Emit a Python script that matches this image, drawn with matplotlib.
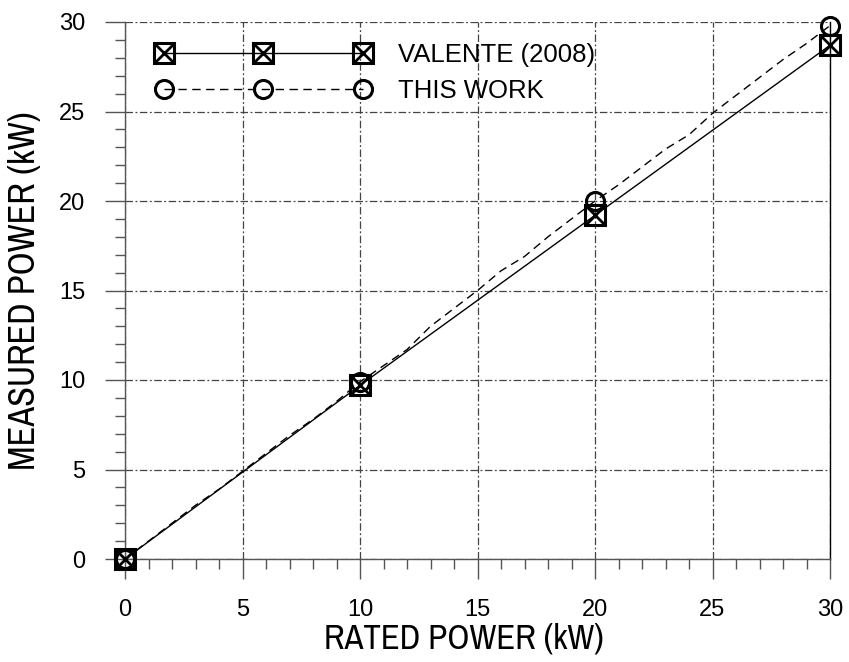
import matplotlib
matplotlib.use("Agg")
from matplotlib import pyplot as plt
from matplotlib.legend_handler import HandlerTuple
from matplotlib.ticker import MultipleLocator

plt.rcParams['font.family'] = ['Liberation Sans', 'DejaVu Sans']
narrow = ['Archivo Narrow', 'Liberation Sans']

# Valente (2008) - measured at the four rated steps
valente_x = [0, 10, 20, 30]
valente_y = [0, 9.7, 19.2, 28.7]

# This work - continuous measurement, markers only at rated steps
work_x = list(range(0, 31))
work_y = [0, 1.0, 2.0, 3.0, 3.9, 4.9, 5.9, 6.9, 7.8, 8.8,
          9.9, 10.8, 11.7, 13.0, 14.0, 15.0, 16.1, 16.9, 18.0, 19.0,
          20.0, 20.9, 21.9, 22.9, 23.7, 24.9, 25.9, 26.9, 27.9, 28.8, 29.8]
work_mark_x = [0, 10, 20, 30]
work_mark_y = [0, 9.9, 20.0, 29.8]

W, H = 849, 662
fig = plt.figure(figsize=(W / 100, H / 100), dpi=100)
ax = fig.add_axes([125 / W, 1 - 559 / H, 705 / W, 537 / H])

ax.plot(valente_x, valente_y, color='black', lw=1.0, zorder=3)
ax.plot(work_x, work_y, color='black', lw=1.0, dashes=(6, 4), zorder=3)

# square with a cross
sq, = ax.plot(valente_x, valente_y, ls='none', marker='s', ms=14.5, mfc='none',
              mec='black', mew=2.2, clip_on=False, zorder=4)
cr, = ax.plot(valente_x, valente_y, ls='none', marker='x', ms=13.5, mec='black',
              mew=2.0, clip_on=False, zorder=4)
# open circle
ci, = ax.plot(work_mark_x, work_mark_y, ls='none', marker='o', ms=13, mfc='none',
              mec='black', mew=2.2, clip_on=False, zorder=5)

# legend lines
l1, = ax.plot([], [], color='black', lw=1.0)
l2, = ax.plot([], [], color='black', lw=1.0, dashes=(6, 4))

ax.set_xlim(0, 30)
ax.set_ylim(0, 30)
ax.xaxis.set_major_locator(MultipleLocator(5))
ax.yaxis.set_major_locator(MultipleLocator(5))
ax.xaxis.set_minor_locator(MultipleLocator(1))
ax.yaxis.set_minor_locator(MultipleLocator(1))

ax.tick_params(which='major', direction='out', length=14.5, width=1.0, color='#555555',
               labelsize=17)
ax.tick_params(axis='y', which='major', pad=14)
ax.tick_params(axis='x', which='major', pad=14)
ax.tick_params(which='minor', direction='out', length=7.5, width=1.0, color='#555555')

ax.grid(True, which='major', color='#444444', lw=0.9, ls=(0, (6, 2, 1.5, 2)))
ax.spines['top'].set_visible(False)
for s in ['left', 'bottom', 'right']:
    ax.spines[s].set_color('#555555')
    ax.spines[s].set_linewidth(1.0)
ax.spines['right'].set_color('black')

ax.set_xlabel("RATED POWER (kW)", fontsize=25, family=narrow)
ax.set_ylabel("MEASURED POWER (kW)", fontsize=26, family=narrow)
ax.xaxis.set_label_coords(0.48, (559 - 623) / 537)
ax.yaxis.set_label_coords((41 - 125) / 705, 0.5)

# legend geometry in pixels: markers at 164 / 263 / 363, text from 398
leg_fs = 18.5
fpx = leg_fs * 100 / 72
hl = 199 / fpx + 0.6
htp = 35 / fpx - 0.3
ax.legend([(l1, sq, cr), (l2, ci)], ["VALENTE (2008)", "THIS WORK"],
          handler_map={tuple: HandlerTuple(ndivide=1, pad=0)},
          numpoints=3, handlelength=hl, handletextpad=htp, frameon=False,
          fontsize=leg_fs, loc='upper left', borderpad=0, borderaxespad=0,
          bbox_to_anchor=((164 - 0.3 * fpx) / W, 1 - 43 / H),
          bbox_transform=fig.transFigure, labelspacing=0.45)

fig.savefig("out.png", dpi=100)
